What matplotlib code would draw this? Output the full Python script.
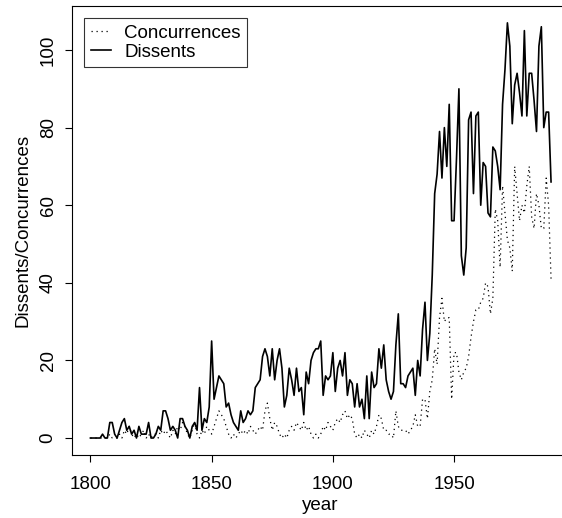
# -*- coding: utf-8 -*-

"""
Dissents and concurrences per year, 1800-1990
"""
import numpy as np
import matplotlib
matplotlib.use("Agg")
import matplotlib.pyplot as plt


# years covered by the series
first_year = 1800
last_year = 1990

# dissents per year (one row per decade)
dissents = [
    0, 0, 0, 0, 0, 1, 0, 0, 4, 4,
    1, 0, 2, 4, 5, 2, 3, 1, 2, 0,
    3, 1, 1, 1, 4, 0, 0, 1, 3, 2,
    7, 7, 5, 2, 3, 2, 0, 5, 5, 3,
    2, 0, 3, 4, 2, 13, 2, 5, 4, 8,
    25, 10, 13, 16, 15, 14, 8, 9, 6, 4,
    3, 2, 7, 4, 5, 7, 6, 7, 13, 14,
    15, 21, 23, 21, 16, 23, 15, 20, 23, 18,
    8, 11, 18, 15, 11, 18, 12, 13, 6, 17,
    14, 20, 22, 23, 23, 25, 11, 16, 15, 16,
    22, 12, 18, 20, 16, 22, 11, 15, 14, 8,
    14, 8, 10, 5, 16, 5, 17, 13, 14, 23,
    18, 24, 15, 12, 10, 12, 24, 32, 14, 14,
    13, 16, 17, 18, 11, 20, 16, 28, 35, 20,
    27, 42, 63, 68, 79, 67, 80, 70, 86, 56,
    56, 72, 90, 47, 42, 49, 82, 84, 63, 83,
    84, 60, 71, 70, 58, 57, 75, 74, 70, 64,
    86, 95, 107, 101, 81, 91, 94, 89, 83, 105,
    83, 94, 94, 87, 79, 101, 106, 80, 84, 84,
    66,
]

# concurrences per year (one row per decade)
concurrences = [
    0, 0, 0, 0, 0, 0, 0, 0, 1, 0,
    0, 0, 1, 0, 2, 1, 3, 1, 0, 1,
    0, 1, 2, 0, 1, 0, 1, 1, 0, 2,
    1, 2, 1, 0, 2, 1, 3, 2, 4, 3,
    1, 0, 2, 4, 1, 0, 2, 1, 3, 2,
    1, 3, 5, 7, 6, 5, 3, 1, 0, 1,
    0, 1, 2, 1, 2, 1, 3, 2, 1, 2,
    3, 2, 7, 9, 5, 2, 4, 3, 1, 0,
    1, 0, 2, 3, 2, 4, 3, 2, 4, 2,
    3, 1, 0, 1, 0, 1, 3, 2, 4, 3,
    2, 4, 5, 4, 6, 7, 5, 6, 5, 1,
    0, 1, 0, 2, 1, 0, 2, 1, 3, 6,
    5, 2, 2, 1, 1, 0, 7, 3, 2, 2,
    2, 1, 2, 3, 6, 3, 3, 10, 10, 5,
    12, 15, 23, 19, 31, 36, 30, 31, 31, 10,
    22, 22, 17, 15, 17, 18, 21, 26, 30, 33,
    33, 35, 36, 40, 39, 32, 36, 59, 56, 44,
    65, 58, 51, 49, 43, 70, 63, 56, 60, 58,
    65, 70, 57, 54, 63, 60, 54, 54, 67, 60,
    41,
]

x_ticks = [1800, 1850, 1900, 1950]
y_ticks = [0, 20, 40, 60, 80, 100]
x_label = "year"
y_label = "Dissents/Concurrences"
legend_labels = ["Concurrences", "Dissents"]


def plot_series(out_file):
    years = np.arange(first_year, last_year + 1)

    plt.rcParams['font.family'] = ['Liberation Sans', 'DejaVu Sans']
    fsize = 13.5

    fig = plt.figure(figsize=(5.62, 5.18), dpi=100)
    # plot region runs past the right edge, like the cropped original
    ax = fig.add_axes([0.1281, 0.1216, 0.8826, 0.8668])

    ax.plot(years, concurrences, color='black', linestyle=(0, (1, 3)),
            linewidth=0.9, label=legend_labels[0])
    ax.plot(years, dissents, color='black', linestyle='-',
            linewidth=1.2, label=legend_labels[1])

    ax.set_xlim(1792.4, 1997.0)
    ax.set_ylim(-4.38, 111.34)
    ax.set_xticks(x_ticks)
    ax.set_yticks(y_ticks)

    for side in ax.spines.values():
        side.set_linewidth(0.8)
        side.set_color('black')

    ax.tick_params(axis='both', direction='out', length=5, width=0.8,
                   labelsize=fsize)
    ax.tick_params(axis='x', pad=10)
    ax.tick_params(axis='y', pad=6)
    for lab in ax.get_yticklabels():
        lab.set_rotation(90)
        lab.set_va('center')

    ax.set_xlabel(x_label, fontsize=fsize, labelpad=3)
    ax.set_ylabel(y_label, fontsize=fsize, labelpad=6)

    leg = ax.legend(loc='upper left', bbox_to_anchor=(12 / 496, 1 - 12 / 449),
                    borderaxespad=0, fancybox=False, frameon=True,
                    handlelength=1.1, handletextpad=0.7,
                    borderpad=0.35, labelspacing=0.1, fontsize=fsize)
    leg.get_frame().set_edgecolor('black')
    leg.get_frame().set_linewidth(0.8)

    fig.savefig(out_file, dpi=100)
    plt.close(fig)


def main():
    assert len(dissents) == last_year - first_year + 1
    assert len(concurrences) == last_year - first_year + 1
    plot_series("out.png")


if __name__ == "__main__":
    main()
